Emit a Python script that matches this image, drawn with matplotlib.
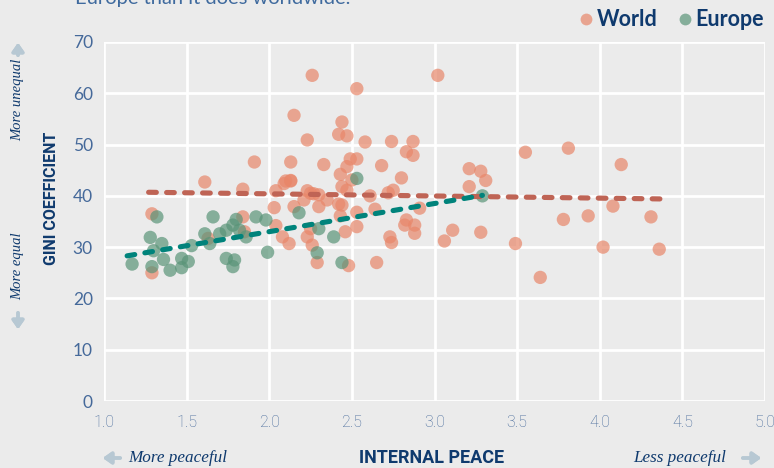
import numpy as np
import matplotlib.pyplot as plt
from matplotlib.lines import Line2D

# internal peace score vs gini coefficient, per country
world_x = [1.29, 1.29, 1.61, 1.63, 1.84, 1.84, 1.85, 1.91, 2.03, 2.04, 2.04, 2.08,
           2.09, 2.10, 2.12, 2.13, 2.13, 2.13, 2.15, 2.15, 2.21, 2.23, 2.23, 2.23,
           2.25, 2.25, 2.26, 2.26, 2.27, 2.29, 2.30, 2.30, 2.33, 2.35, 2.42, 2.42,
           2.43, 2.43, 2.44, 2.44, 2.44, 2.46, 2.47, 2.47, 2.47, 2.48, 2.49, 2.50,
           2.53, 2.53, 2.53, 2.53, 2.58, 2.61, 2.64, 2.65, 2.68, 2.72, 2.73, 2.74,
           2.74, 2.75, 2.80, 2.82, 2.83, 2.83, 2.87, 2.87, 2.88, 2.88, 2.91, 3.02,
           3.06, 3.11, 3.21, 3.21, 3.28, 3.28, 3.31, 3.49, 3.55, 3.64, 3.78, 3.81,
           3.93, 4.02, 4.08, 4.13, 4.31, 4.36]
world_y = [36.5, 25.0, 42.7, 31.7, 41.3, 35.9, 33.0, 46.6, 37.7, 41.0, 34.2, 32.0,
           42.4, 42.9, 30.7, 46.6, 43.0, 42.9, 55.7, 37.9, 39.2, 50.9, 41.0, 32.0,
           40.5, 33.6, 63.5, 30.4, 40.4, 27.0, 40.2, 37.9, 46.1, 39.2, 38.4, 52.0,
           44.2, 36.1, 54.4, 41.8, 38.2, 33.0, 51.7, 41.1, 45.7, 26.4, 47.2, 43.1,
           47.2, 60.9, 36.8, 34.0, 50.5, 40.0, 37.4, 27.0, 45.9, 40.6, 32.0, 50.6,
           30.9, 41.1, 43.5, 34.3, 35.3, 48.6, 50.6, 47.9, 34.3, 32.7, 37.6, 63.5,
           31.2, 33.3, 45.3, 41.8, 44.8, 32.9, 43.0, 30.7, 48.5, 24.1, 35.4, 49.3,
           36.1, 30.0, 38.0, 46.1, 35.9, 29.6]

europe_x = [1.17, 1.28, 1.29, 1.30, 1.32, 1.35, 1.36, 1.40, 1.47, 1.47, 1.51, 1.53,
            1.61, 1.64, 1.66, 1.70, 1.74, 1.74, 1.78, 1.78, 1.79, 1.80, 1.82, 1.86,
            1.92, 1.98, 1.99, 2.18, 2.29, 2.30, 2.39, 2.44, 2.53, 3.29]
europe_y = [26.7, 31.9, 26.2, 29.3, 35.9, 30.7, 27.6, 25.5, 27.8, 26.0, 27.2, 30.3,
            32.6, 30.7, 35.9, 32.6, 33.3, 27.8, 34.3, 26.2, 27.5, 35.4, 33.3, 32.0,
            35.9, 35.3, 29.0, 36.7, 28.9, 33.6, 32.0, 27.0, 43.4, 40.0]

# trend line end points
world_trend_x = [1.27, 4.37]
world_trend_y = [40.7, 39.4]
europe_trend_x = [1.14, 3.29]
europe_trend_y = [28.3, 40.1]

x_ticks = [1.0, 1.5, 2.0, 2.5, 3.0, 3.5, 4.0, 4.5, 5.0]
y_ticks = [0, 10, 20, 30, 40, 50, 60, 70]

bg = '#ebebeb'
navy = '#0f3a6e'
tick_col = '#45699a'
arrow_col = '#b7c8d3'
world_col = '#e8876a'
europe_col = '#5a9478'

fig = plt.figure(figsize=(7.74, 4.68), dpi=100, facecolor=bg)
ax = fig.add_axes([104/774, 1 - 401/468, 661/774, 359/468])
ax.set_facecolor(bg)

ax.scatter(world_x, world_y, s=92, color=world_col, alpha=0.7, edgecolors='none', zorder=3)
ax.scatter(europe_x, europe_y, s=92, color=europe_col, alpha=0.7, edgecolors='none', zorder=3)

ax.plot(world_trend_x, world_trend_y, color='#bf6455', lw=3.7, dashes=(1.5, 2.0),
        dash_capstyle='round', zorder=4)
ax.plot(europe_trend_x, europe_trend_y, color='#00837b', lw=3.7, dashes=(1.5, 2.0),
        dash_capstyle='round', zorder=4)

ax.set_xlim(1, 5)
ax.set_ylim(0, 70)
ax.set_xticks(x_ticks)
ax.set_yticks(y_ticks)
ax.set_xticklabels([f'{t:.1f}' for t in x_ticks], fontname='Roboto', fontweight='light',
                   fontsize=11.5)
ax.set_yticklabels([str(t) for t in y_ticks], fontname='Lato', fontweight='normal',
                   fontsize=12.5)
ax.tick_params(length=0, colors=tick_col)
ax.tick_params(axis='x', pad=10)
ax.tick_params(axis='y', pad=8)
ax.grid(True, color='white', lw=2)
ax.set_axisbelow(True)
for s in ax.spines.values():
    s.set_visible(False)

# headline, runs off the top edge
fig.text(75/774, 1 - 4/468, 'Europe than it does worldwide.', fontsize=14.5,
         color='#3f6a9e', fontname='Lato', va='baseline')

# axis titles
fig.text(52/774, 1 - 198/468, 'GINI COEFFICIENT', rotation=90, ha='center', va='center',
         fontsize=11.5, fontweight='bold', color=navy, fontname='Roboto')
fig.text(432/774, 1 - 458/468, 'INTERNAL PEACE', ha='center', va='center',
         fontsize=13, fontweight='bold', color=navy, fontname='Roboto')

serif = dict(fontstyle='italic', fontname='Liberation Serif', color=navy)
fig.text(18/774, 1 - 100/468, 'More unequal', rotation=90, ha='center', va='center',
         fontsize=10.5, **serif)
fig.text(18/774, 1 - 266/468, 'More equal', rotation=90, ha='center', va='center',
         fontsize=10.5, **serif)
fig.text(128/774, 1 - 458/468, 'More peaceful', ha='left', va='center', fontsize=12.3, **serif)
fig.text(726/774, 1 - 458/468, 'Less peaceful', ha='right', va='center', fontsize=12.3, **serif)

arrow = dict(arrowstyle='-|>,head_width=0.35,head_length=0.5', color=arrow_col, lw=2.5)
fig.add_artist(plt.annotate('', xy=(18/774, 1 - 40/468), xytext=(18/774, 1 - 58/468),
                            xycoords='figure fraction', arrowprops=arrow))
fig.add_artist(plt.annotate('', xy=(18/774, 1 - 332/468), xytext=(18/774, 1 - 310/468),
                            xycoords='figure fraction', arrowprops=arrow))
fig.add_artist(plt.annotate('', xy=(100/774, 1 - 458/468), xytext=(123/774, 1 - 458/468),
                            xycoords='figure fraction', arrowprops=arrow))
fig.add_artist(plt.annotate('', xy=(764/774, 1 - 458/468), xytext=(740/774, 1 - 458/468),
                            xycoords='figure fraction', arrowprops=arrow))

handles = [Line2D([], [], ls='none', marker='o', ms=8.5, color=world_col, alpha=0.7, mec='none'),
           Line2D([], [], ls='none', marker='o', ms=8.5, color=europe_col, alpha=0.7, mec='none')]
leg = fig.legend(handles, ['World', 'Europe'], loc='center right',
                 bbox_to_anchor=(764/774, 1 - 20/468), ncol=2, frameon=False,
                 borderaxespad=0, borderpad=0,
                 handletextpad=0.0, columnspacing=0.75, handlelength=1.0,
                 prop=dict(family='Lato', weight='bold', size=15.5))
for t in leg.get_texts():
    t.set_color(navy)

fig.savefig('out.png', dpi=100, facecolor=bg)
